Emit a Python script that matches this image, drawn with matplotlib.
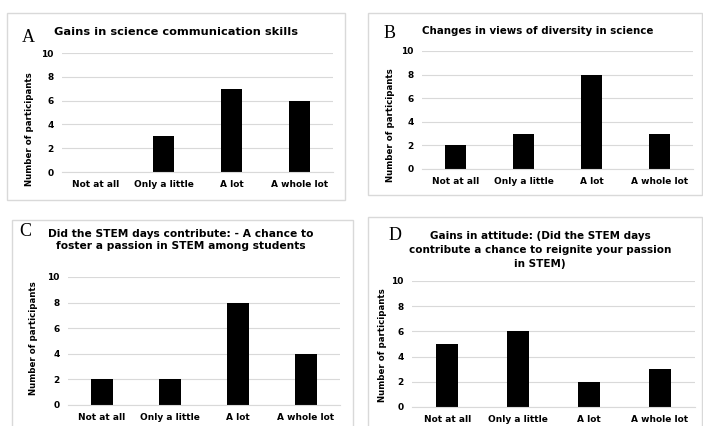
import matplotlib
matplotlib.use("Agg")
import matplotlib.pyplot as plt
from matplotlib.patches import Rectangle

# data
categories = ["Not at all", "Only a little", "A lot", "A whole lot"]
gains_comm = [0, 3, 7, 6]
views_diversity = [2, 3, 8, 3]
foster_passion = [2, 2, 8, 4]
reignite_passion = [5, 6, 2, 3]

W, H = 703, 426
fig = plt.figure(figsize=(W / 100, H / 100), dpi=100)
fig.patch.set_facecolor("white")

bold = dict(family="DejaVu Sans", weight="bold")


def px_axes(x0, x1, ytop, ybot):
    # axes from pixel coords (top-left origin)
    return fig.add_axes([x0 / W, 1 - ybot / H, (x1 - x0) / W, (ybot - ytop) / H])


def px_box(x0, y0, x1, y1):
    fig.patches.append(Rectangle((x0 / W, 1 - y1 / H), (x1 - x0) / W, (y1 - y0) / H,
                                 transform=fig.transFigure, fill=False,
                                 edgecolor="#d9d9d9", linewidth=1.0))


def px_text(x, y, s, **kw):
    fig.text(x / W, 1 - y / H, s, **kw)


def decorate(ax, values, label_x, label_y):
    ax.bar(range(len(categories)), values, width=0.31, color="black")
    ax.set_xlim(-0.5, 3.5)
    ax.set_ylim(0, 10)
    ax.set_yticks(range(0, 11, 2))
    ax.set_xticks(range(len(categories)))
    ax.set_xticklabels(categories, fontsize=6.5, **bold)
    for lab in ax.get_yticklabels():
        lab.set_fontsize(6.5)
        lab.set_fontweight("bold")
    ax.tick_params(length=0, pad=6)
    ax.yaxis.grid(True, color="#d9d9d9", linewidth=0.8)
    ax.set_axisbelow(True)
    for side in ["top", "right", "left"]:
        ax.spines[side].set_visible(False)
    ax.spines["bottom"].set_color("#d9d9d9")
    ax.set_ylabel("Number of participants", fontsize=6.2, **bold)
    ax.yaxis.set_label_coords(label_x, label_y)


# panel boxes
px_box(7, 13, 345, 200)
px_box(368, 13, 702, 195)
px_box(12, 220, 353, 430)
px_box(368, 217, 702, 430)

axA = px_axes(62, 333, 53, 172)
decorate(axA, gains_comm, -0.105, 0.36)
axB = px_axes(422, 693, 51, 169)
decorate(axB, views_diversity, -0.098, 0.37)
axC = px_axes(68, 340, 277, 405)
decorate(axC, foster_passion, -0.11, 0.52)
axD = px_axes(412, 695, 281, 407)
decorate(axD, reignite_passion, -0.088, 0.49)

# panel letters
serif = dict(family="Liberation Serif", fontsize=13, va="center", ha="center")
px_text(28, 37, "A", **serif)
px_text(390, 33, "B", **serif)
px_text(25, 231, "C", **serif)
px_text(395, 235, "D", **serif)

# titles
px_text(176, 32, "Gains in science communication skills",
        fontsize=8.2, ha="center", va="center", **bold)
px_text(422, 31, "Changes in views of diversity in science",
        fontsize=7.4, ha="left", va="center", **bold)
px_text(181, 240, "Did the STEM days contribute: - A chance to\nfoster a passion in STEM among students",
        fontsize=7.7, ha="center", va="center", linespacing=1.35, **bold)
px_text(540, 250, "Gains in attitude: (Did the STEM days\ncontribute a chance to reignite your passion\nin STEM)",
        fontsize=7.5, ha="center", va="center", linespacing=1.45, **bold)

fig.savefig("out.png", dpi=100)
